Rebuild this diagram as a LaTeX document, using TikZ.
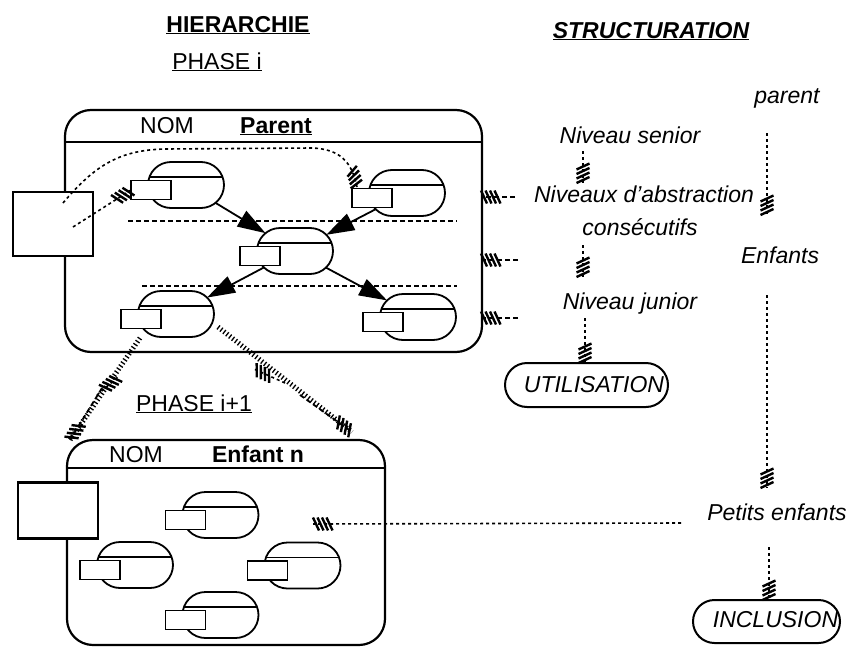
\documentclass[tikz,border=0pt]{standalone}
\usepackage{fontspec}
\setmainfont{Liberation Sans}
\usetikzlibrary{shapes.misc,arrows.meta,decorations.markings,calc}
\newcommand\hstroke{\draw[solid,line width=2.4pt] (-3,-6.5)--(3,6.5);}
\newcommand\mycomp[3]{%
  \node[oval] (#1) at (#2,#3) {};
  \draw[line width=1.6pt] ($(#1.center)+(-36.5,-8)$) -- ($(#1.center)+(36.5,-8)$);
  \node[srect] (#1r) at ($(#1.center)+(-35,5)$) {};
}
\begin{document}
\begin{tikzpicture}[x=1pt,y=-1pt,
  every node/.style={inner sep=0pt, outer sep=0pt},
  txt/.style={font=\fontsize{23}{27}\selectfont, anchor=base},
  itx/.style={font=\fontsize{23}{27}\selectfont\itshape, anchor=base},
  bigbox/.style={draw, line width=2.2pt, rounded corners=26pt},
  sq/.style={draw, line width=2.2pt, fill=white, minimum width=80pt, minimum height=64pt},
  oval/.style={draw, rounded rectangle, line width=1.8pt, fill=white, minimum width=76pt, minimum height=46pt},
  srect/.style={draw, line width=1.8pt, fill=white, minimum width=40pt, minimum height=19pt},
  arr/.style={line width=1.8pt, -{Triangle[length=28pt,width=18pt]}},
  dsh/.style={line width=1.8pt, dash pattern=on 5pt off 3pt},
  dotl/.style={line width=1.6pt, dash pattern=on 3pt off 3pt},
  tickl/.style={line width=5pt, dash pattern=on 1.3pt off 2.4pt},
  stad/.style={draw, rounded rectangle, line width=2pt},
  hatchend/.style={postaction={decorate,decoration={markings,
     mark=at position -3pt with {\hstroke},
     mark=at position -7.5pt with {\hstroke},
     mark=at position -12pt with {\hstroke},
     mark=at position -16.5pt with {\hstroke}}}}
]
\useasboundingbox (0,0) rectangle (849,648);

% titles
\node[txt, font=\fontsize{23}{27}\selectfont\bfseries] (hier) at (238,32) {\underline{HIERARCHIE}};
\node[txt] (phi) at (217,69) {\underline{PHASE i}};
\node[txt, font=\fontsize{23}{27}\selectfont\bfseries\itshape] (struct) at (651,38) {\underline{STRUCTURATION}};

% box 1
\node[bigbox, minimum width=417pt, minimum height=242pt] (b1) at (273.5,231) {};
\coordinate (h1l) at (65,142); \coordinate (h1r) at (482,142);
\draw[line width=2.2pt] (h1l) -- (h1r);
\node[txt] (nom1) at (167,133) {NOM};
\node[txt, font=\fontsize{23}{27}\selectfont\bfseries] (par) at (276,133) {\underline{Parent}};
\node[sq] (sq1) at (53,224) {};

% dashed level lines
\coordinate (l1a) at (128,221); \coordinate (l1b) at (457,221);
\coordinate (l2a) at (142,286); \coordinate (l2b) at (457,286);
\draw[dsh] (l1a) -- (l1b);
\draw[dsh] (l2a) -- (l2b);

% components
\mycomp{o1}{186}{185}
\mycomp{o2}{407}{193}
\mycomp{o3}{295}{251}
\mycomp{o4}{176}{314}
\mycomp{o5}{418}{317}

% dashed links from square
\coordinate (c1s) at (63,203); \coordinate (c1e) at (357,187);
\coordinate (c2s) at (73,227);
\draw[dotl, hatchend] (c1s) .. controls (95,165) and (120,150) .. (165,149) -- (312,148) .. controls (340,149) and (352,162) .. (c1e);
\draw[dotl, hatchend] (c2s) -- (o1r.west);

% arrows
\draw[arr] (o1) -- (o3);
\draw[arr] (o2) -- (o3);
\draw[arr] (o3) -- (o4);
\draw[arr] (o3) -- (o5);

% right side arrows into box 1
\coordinate (r1s) at (515,197); \coordinate (r1e) at (481,197);
\coordinate (r2s) at (518,260); \coordinate (r2e) at (481,260);
\coordinate (r3s) at (518,318); \coordinate (r3e) at (481,318);
\draw[dsh, hatchend] (r1s) -- (r1e);
\draw[dsh, hatchend] (r2s) -- (r2e);
\draw[dsh, hatchend] (r3s) -- (r3e);

% projection to phase i+1
\coordinate (pl1) at (140,338); \coordinate (pl2) at (70,440);
\coordinate (pr1) at (218,327); \coordinate (pr2) at (352,432);
\draw[tickl] (pl1) -- (pl2);
\draw[dsh, hatchend] (102,388) -- (pl2);
\draw[tickl] (pr1) -- (pr2);
\draw[dsh, hatchend] (300,395) -- (pr2);
\coordinate (ml1) at (97,395); \coordinate (ml2) at (118,377);
\draw[dotl, hatchend] (ml1) -- (ml2);
\coordinate (mr1) at (285,383); \coordinate (mr2) at (254,369);
\draw[dotl, hatchend] (mr1) -- (mr2);

\node[txt] (phi1) at (194,411) {\underline{PHASE i+1}};

% box 2
\node[bigbox, minimum width=318pt, minimum height=205pt] (b2) at (226,542.5) {};
\coordinate (h2l) at (67,468); \coordinate (h2r) at (385,468);
\draw[line width=2.2pt] (h2l) -- (h2r);
\node[txt] (nom2) at (136,462) {NOM};
\node[txt, font=\fontsize{23}{27}\selectfont\bfseries] (enf) at (258,462) {Enfant n};
\node[sq, minimum height=56pt] (sq2) at (58,510.5) {};
\mycomp{a1}{220.5}{515}
\mycomp{a2}{135}{565}
\mycomp{a3}{302.5}{565.5}
\mycomp{a4}{220.5}{615}

% middle column
\node[itx] (senior) at (630,143) {Niveau senior};
\node[itx] (abst) at (644,202) {Niveaux d'abstraction};
\node[itx] (consec) at (640,235) {consécutifs};
\node[itx] (junior) at (630,309) {Niveau junior};
\node[stad, minimum width=163pt, minimum height=44pt] (util) at (586.5,385) {};
\node[itx] (utilt) at (594,392) {UTILISATION};
\coordinate (m1s) at (583,151); \coordinate (m1e) at (583,183);
\coordinate (m2s) at (583,245); \coordinate (m2e) at (583,277);
\coordinate (m3s) at (585,318);
\draw[dotl, hatchend] (m1s) -- (m1e);
\draw[dotl, hatchend] (m2s) -- (m2e);
\draw[dotl, hatchend] (m3s) -- (util.north -| m3s);

% right column
\node[itx] (parent) at (787,103) {parent};
\node[itx] (enfants) at (780,263) {Enfants};
\node[itx] (petits) at (777,520) {Petits enfants};
\node[stad, minimum width=147pt, minimum height=43pt] (incl) at (766.5,621.5) {};
\node[itx] (inclt) at (775.5,627) {INCLUSION};
\coordinate (p1s) at (767,133); \coordinate (p1e) at (767,215);
\coordinate (p2s) at (767,295); \coordinate (p2e) at (767,488);
\coordinate (p3s) at (769,547);
\draw[dotl, hatchend] (p1s) -- (p1e);
\draw[dotl, hatchend] (p2s) -- (p2e);
\draw[dotl, hatchend] (p3s) -- (incl.north -| p3s);
\coordinate (pe1) at (681,523); \coordinate (pe2) at (313,524);
\draw[dotl, hatchend] (pe1) -- (pe2);
\end{tikzpicture}
\end{document}
